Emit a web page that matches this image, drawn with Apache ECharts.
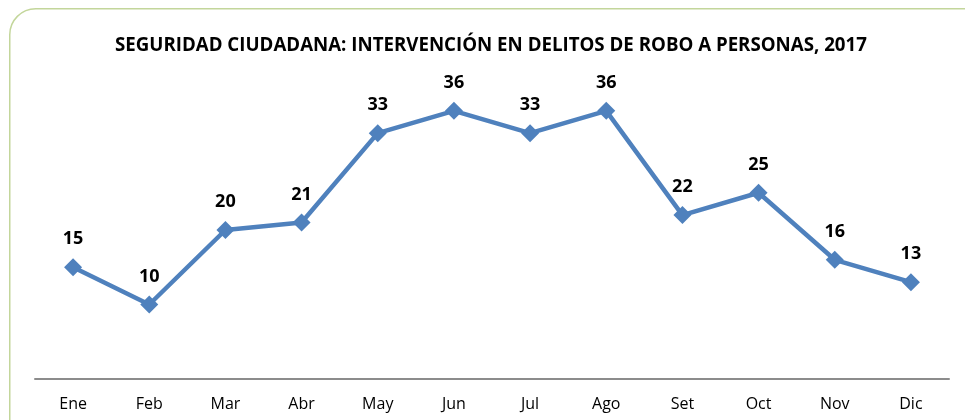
<!DOCTYPE html>
<html>
<head>
<meta charset="utf-8">
<script src="https://cdn.jsdelivr.net/npm/echarts@6/dist/echarts.min.js"></script>
<style>html,body{margin:0;padding:0;background:#fff}#c{width:965px;height:420px}</style>
</head>
<body>
<div id="c"></div>
<script>
var titleText = 'SEGURIDAD CIUDADANA: INTERVENCIÓN EN DELITOS DE ROBO A PERSONAS, 2017';
var months = ['Ene','Feb','Mar','Abr','May','Jun','Jul','Ago','Set','Oct','Nov','Dic'];
var values = [15,10,20,21,33,36,33,36,22,25,16,13];

var chart = echarts.init(document.getElementById('c'), null, {renderer:'canvas'});
chart.setOption({
  animation: false,
  backgroundColor: '#ffffff',
  graphic: [{
    type: 'rect', left: 9, top: 8, z: -1,
    shape: {width: 980, height: 440, r: 26},
    style: {fill: '#ffffff', stroke: '#c3d69b', lineWidth: 1.5}
  }],
  title: {
    text: titleText, left: 110, top: 31,
    textStyle: {fontFamily: 'Open Sans', fontWeight: 'bold', fontSize: 18.7, color: '#000'}
  },
  grid: {left: 35, right: 16, top: 81, bottom: 41},
  xAxis: {
    type: 'category', data: months, boundaryGap: true,
    axisLine: {lineStyle: {color: '#8c8c8c', width: 2}},
    axisTick: {show: false},
    axisLabel: {fontFamily: 'Open Sans', fontSize: 16, color: '#000', margin: 17}
  },
  yAxis: {type: 'value', min: 0, max: 40, show: false, splitLine: {show: false}},
  series: [{
    type: 'line', data: values,
    symbol: 'diamond', symbolSize: 18,
    lineStyle: {color: '#4f81bd', width: 4.5},
    itemStyle: {color: '#4f81bd'},
    label: {show: true, position: 'top', distance: 10, fontFamily: 'Open Sans', fontWeight: 'bold', fontSize: 18, color: '#000'}
  }]
});
</script>
</body>
</html>
